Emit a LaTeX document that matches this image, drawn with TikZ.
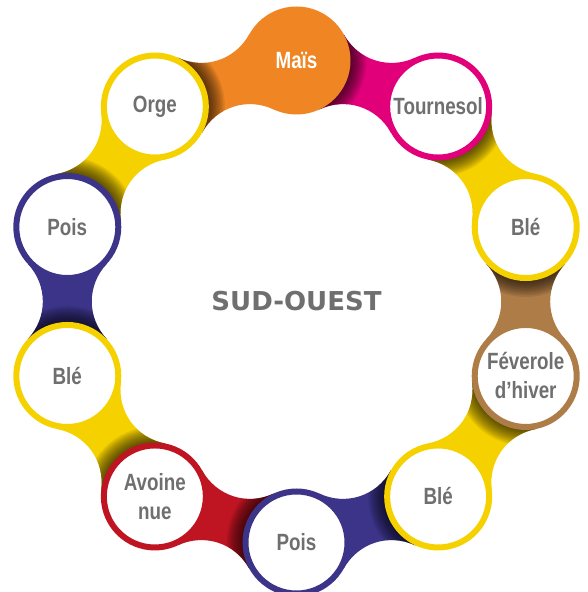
\documentclass[tikz,border=0pt]{standalone}
\usepackage{fontspec}
\setmainfont{Liberation Sans}
\newfontfamily\labelfont{Liberation Sans}[FakeStretch=0.8]
\newfontfamily\titlefont{DejaVu Sans}
\usetikzlibrary{calc}
\definecolor{cOrange}{HTML}{EF8623}
\definecolor{cMagenta}{HTML}{E2007A}
\definecolor{cYellow}{HTML}{F6D100}
\definecolor{cBrown}{HTML}{AE7C47}
\definecolor{cNavy}{HTML}{3C3489}
\definecolor{cRed}{HTML}{BF1523}
\definecolor{cText}{HTML}{6F6F6F}
\pgfdeclarelayer{bg}
\pgfsetlayers{bg,main}
\newcommand{\band}[3]{%
  \fill[#3] ($(#1.center)!54pt!47:(#2.center)$) to[bend right=43] ($(#2.center)!54pt!-47:(#1.center)$) -- ($(#2.center)!54pt!47:(#1.center)$) to[bend right=43] ($(#1.center)!54pt!-47:(#2.center)$) -- cycle;
  \begin{scope}
    \clip ($(#1.center)!54pt!47:(#2.center)$) to[bend right=43] ($(#2.center)!54pt!-47:(#1.center)$) -- ($(#2.center)!54pt!47:(#1.center)$) to[bend right=43] ($(#1.center)!54pt!-47:(#2.center)$) -- cycle;
    \foreach \rr in {55,56.5,...,70} {\fill[black, opacity=0.075] (#1.center) circle (\rr pt);}
  \end{scope}}
\tikzset{
  crop/.style={circle, draw=#1, line width=6pt, fill=white, minimum size=102pt, inner sep=0pt,
    text=cText, align=center, font=\labelfont\bfseries\fontsize{23.5}{29}\selectfont},
}
\begin{document}
\begin{tikzpicture}[x=1pt,y=1pt]
\useasboundingbox (0,0) rectangle (587,592);
\coordinate (C) at (296.5,290.5);
\node[crop=cOrange, fill=cOrange, text=white] (n1) at ($(C)+(90:241)$) {Maïs};
\node[crop=cMagenta] (n2) at ($(C)+(54:241)$) {Tournesol};
\node[crop=cYellow] (n3) at ($(C)+(18:241)$) {Blé};
\node[crop=cBrown] (n4) at ($(C)+(-18:241)$) {Féverole\\d’hiver};
\node[crop=cYellow] (n5) at ($(C)+(-54:241)$) {Blé};
\node[crop=cNavy] (n6) at ($(C)+(-90:241)$) {Pois};
\node[crop=cRed] (n7) at ($(C)+(-126:241)$) {Avoine\\nue};
\node[crop=cYellow] (n8) at ($(C)+(-162:241)$) {Blé};
\node[crop=cNavy] (n9) at ($(C)+(162:241)$) {Pois};
\node[crop=cYellow] (n10) at ($(C)+(126:241)$) {Orge};
\node[text=cText, font=\titlefont\bfseries\fontsize{26}{30}\selectfont] (title) at (C) {SUD-OUEST};
\begin{pgfonlayer}{bg}
\band{n1}{n2}{cMagenta}
\band{n2}{n3}{cYellow}
\band{n3}{n4}{cBrown}
\band{n4}{n5}{cYellow}
\band{n5}{n6}{cNavy}
\band{n6}{n7}{cRed}
\band{n7}{n8}{cYellow}
\band{n8}{n9}{cNavy}
\band{n9}{n10}{cYellow}
\band{n10}{n1}{cOrange}
\end{pgfonlayer}
\end{tikzpicture}
\end{document}
